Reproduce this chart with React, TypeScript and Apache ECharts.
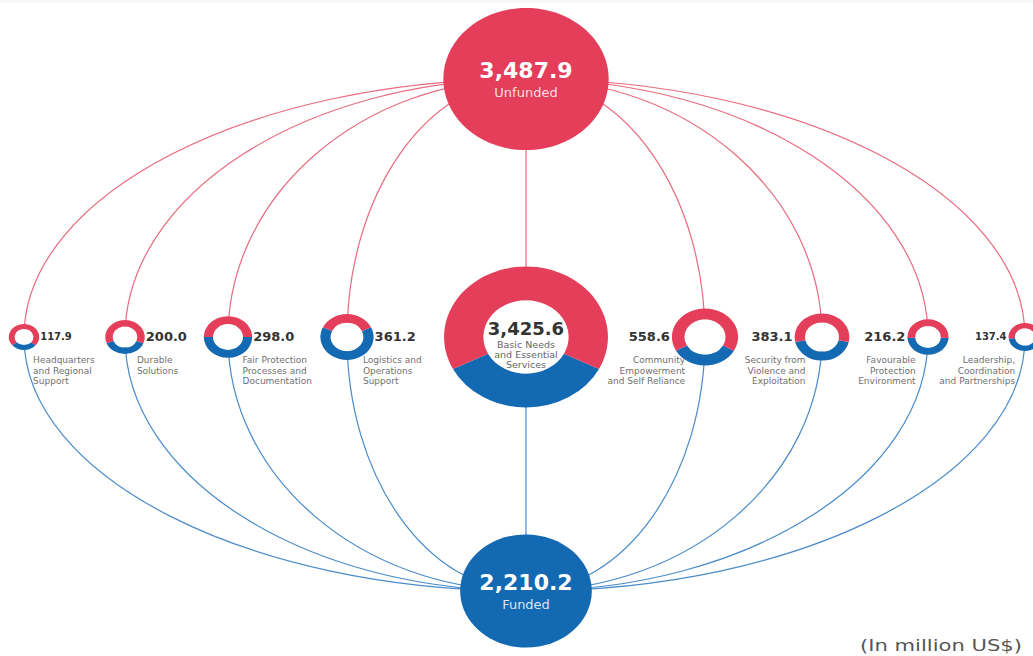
import React, { useEffect, useRef } from "react";
import * as echarts from "echarts";

// ---------- data (million US$) ----------
const categories = [
  "Headquarters\nand Regional\nSupport",
  "Durable\nSolutions",
  "Fair Protection\nProcesses and\nDocumentation",
  "Logistics and\nOperations\nSupport",
  "Basic Needs\nand Essential\nServices",
  "Community\nEmpowerment\nand Self Reliance",
  "Security from\nViolence and\nExploitation",
  "Favourable\nProtection\nEnvironment",
  "Leadership,\nCoordination\nand Partnerships",
];
const totals = [117.9, 200.0, 298.0, 361.2, 3425.6, 558.6, 383.1, 216.2, 137.4];
// funded share read from each donut's blue arc (estimates)
const funded = [33.0, 76.0, 149.0, 231.0, 1199.0, 190.0, 165.0, 104.0, 63.2];
const hubLabels = ["Unfunded", "Funded"];
const hubValues = [3487.9, 2210.2];
const footnote = "(In million US$)";

// ---------- layout (hidden axes in canvas units) ----------
const NODE_X = [24, 125, 228, 347, 526, 705, 822, 928, 1025];
const NODE_Y = 337;
const HUB_X = 526;
const HUB_Y = [79, 591];
const SIZE_K = 1.4;
const SQUASH = 0.86;
const RED = "#E53E5A";
const BLUE = "#136AB3";
const RED_LINE = "#E96A7E";
const BLUE_LINE = "#4A8BC9";
const FONT = '"DejaVu Sans", sans-serif';

const fmt = (v: number) =>
  v.toLocaleString("en-US", { minimumFractionDigits: 1, maximumFractionDigits: 1 });

const centerIndex = totals.indexOf(Math.max(...totals));

export default function App() {
  const ref = useRef<HTMLDivElement>(null);

  useEffect(() => {
    if (!ref.current) return;
    const chart = echarts.init(ref.current, null, { renderer: "svg" });

    const linkRender = (_params: any, api: any) => {
      const p = api.coord([api.value(0), api.value(1)]);
      const t = api.coord([HUB_X, HUB_Y[0]]);
      const b = api.coord([HUB_X, HUB_Y[1]]);
      const k = 0.5523;
      return {
        type: "group",
        children: [
          {
            type: "bezierCurve",
            shape: {
              x1: t[0], y1: t[1],
              cpx1: t[0] + (p[0] - t[0]) * k, cpy1: t[1],
              cpx2: p[0], cpy2: p[1] - (p[1] - t[1]) * k,
              x2: p[0], y2: p[1],
            },
            style: { stroke: RED_LINE, lineWidth: 1.2, fill: "none" },
          },
          {
            type: "bezierCurve",
            shape: {
              x1: p[0], y1: p[1],
              cpx1: p[0], cpy1: p[1] + (b[1] - p[1]) * k,
              cpx2: b[0] + (p[0] - b[0]) * k, cpy2: b[1],
              x2: b[0], y2: b[1],
            },
            style: { stroke: BLUE_LINE, lineWidth: 1.2, fill: "none" },
          },
        ],
      };
    };

    const txt = (text: string, x: number, y: number, font: string, fill: string, align: string, valign: string, lineHeight?: number) => ({
      type: "text",
      style: {
        text, x, y, font, fill,
        align, textAlign: align,
        verticalAlign: valign, textVerticalAlign: valign,
        lineHeight,
      },
    });

    const nodeRender = (params: any, api: any) => {
      const i = params.dataIndex;
      const c = api.coord([api.value(0), api.value(1)]);
      const total = api.value(2);
      const fund = api.value(3);
      const r = SIZE_K * Math.sqrt(total);
      const big = i === centerIndex;
      const r0 = r * (big ? 0.52 : 0.62);
      const f = fund / total;
      const a0 = Math.PI / 2 - Math.PI * f;
      const a1 = Math.PI / 2 + Math.PI * f;
      const children: any[] = [
        {
          type: "group",
          x: c[0], y: c[1], scaleY: SQUASH,
          children: [
            { type: "circle", shape: { cx: 0, cy: 0, r: r0 }, style: { fill: "#fff" } },
            { type: "sector", shape: { cx: 0, cy: 0, r, r0, startAngle: a0, endAngle: a1, clockwise: true }, style: { fill: BLUE } },
            { type: "sector", shape: { cx: 0, cy: 0, r, r0, startAngle: a1, endAngle: a0 + Math.PI * 2, clockwise: true }, style: { fill: RED } },
          ],
        },
      ];
      const valFont = `bold ${total < 150 ? 10 : 13}px ${FONT}`;
      if (big) {
        children.push(txt(fmt(total), c[0], c[1] - 9, `bold 18px ${FONT}`, "#333", "center", "middle"));
        children.push(txt(categories[i], c[0], c[1] + 17, `9.5px ${FONT}`, "#666", "center", "middle", 10));
      } else if (i < centerIndex) {
        children.push(txt(fmt(total), c[0] + r + 1, c[1] - 1, valFont, "#333", "left", "middle"));
        children.push(txt(categories[i], c[0] + r * 0.6, c[1] + 18, `9px ${FONT}`, "#707070", "left", "top", 10.5));
      } else {
        children.push(txt(fmt(total), c[0] - r - 2, c[1] - 1, valFont, "#333", "right", "middle"));
        children.push(txt(categories[i], c[0] - r * 0.6, c[1] + 18, `9px ${FONT}`, "#707070", "right", "top", 10.5));
      }
      return { type: "group", children };
    };

    const hubRender = (params: any, api: any) => {
      const i = params.dataIndex;
      const c = api.coord([api.value(0), api.value(1)]);
      const v = api.value(2);
      const r = SIZE_K * Math.sqrt(v);
      return {
        type: "group",
        children: [
          { type: "ellipse", shape: { cx: c[0], cy: c[1], rx: r, ry: r * SQUASH }, style: { fill: i === 0 ? RED : BLUE } },
          txt(fmt(v), c[0], c[1] - 9, `bold 22px ${FONT}`, "#fff", "center", "middle"),
          txt(hubLabels[i], c[0], c[1] + 13, `13px ${FONT}`, "rgba(255,255,255,0.85)", "center", "middle"),
        ],
      };
    };

    chart.setOption({
      animation: false,
      backgroundColor: "#fff",
      grid: { left: 0, right: 0, top: 0, bottom: 0 },
      xAxis: { type: "value", min: 0, max: 1033, show: false },
      yAxis: { type: "value", min: 0, max: 656, inverse: true, show: false },
      graphic: [
        {
          type: "rect",
          x: 0, y: 0,
          shape: { x: 0, y: 0, width: 1033, height: 3 },
          style: { fill: "#f7f7f7" },
          silent: true,
        },
        {
          type: "text",
          x: 1022,
          y: 645,
          scaleX: 1.32,
          style: {
            text: footnote, x: 0, y: 0,
            font: `16px ${FONT}`, fill: "#555",
            align: "right", textAlign: "right",
            verticalAlign: "middle", textVerticalAlign: "middle",
          },
        },
      ],
      series: [
        {
          type: "custom",
          name: "links",
          clip: false,
          z: 1,
          renderItem: linkRender,
          encode: { x: 0, y: 1 },
          data: totals.map((_t, i) => [NODE_X[i], NODE_Y]),
          silent: true,
        },
        {
          type: "custom",
          name: "hubs",
          clip: false,
          z: 2,
          renderItem: hubRender,
          encode: { x: 0, y: 1 },
          data: hubValues.map((v, i) => [HUB_X, HUB_Y[i], v]),
          silent: true,
        },
        {
          type: "custom",
          name: "categories",
          clip: false,
          z: 3,
          renderItem: nodeRender,
          encode: { x: 0, y: 1 },
          data: totals.map((t, i) => [NODE_X[i], NODE_Y, t, funded[i]]),
          silent: true,
        },
      ],
    });

    return () => chart.dispose();
  }, []);

  return (
    <div
      ref={ref}
      style={{ position: "fixed", left: 0, top: 0, width: 1033, height: 656, background: "#fff" }}
    />
  );
}
